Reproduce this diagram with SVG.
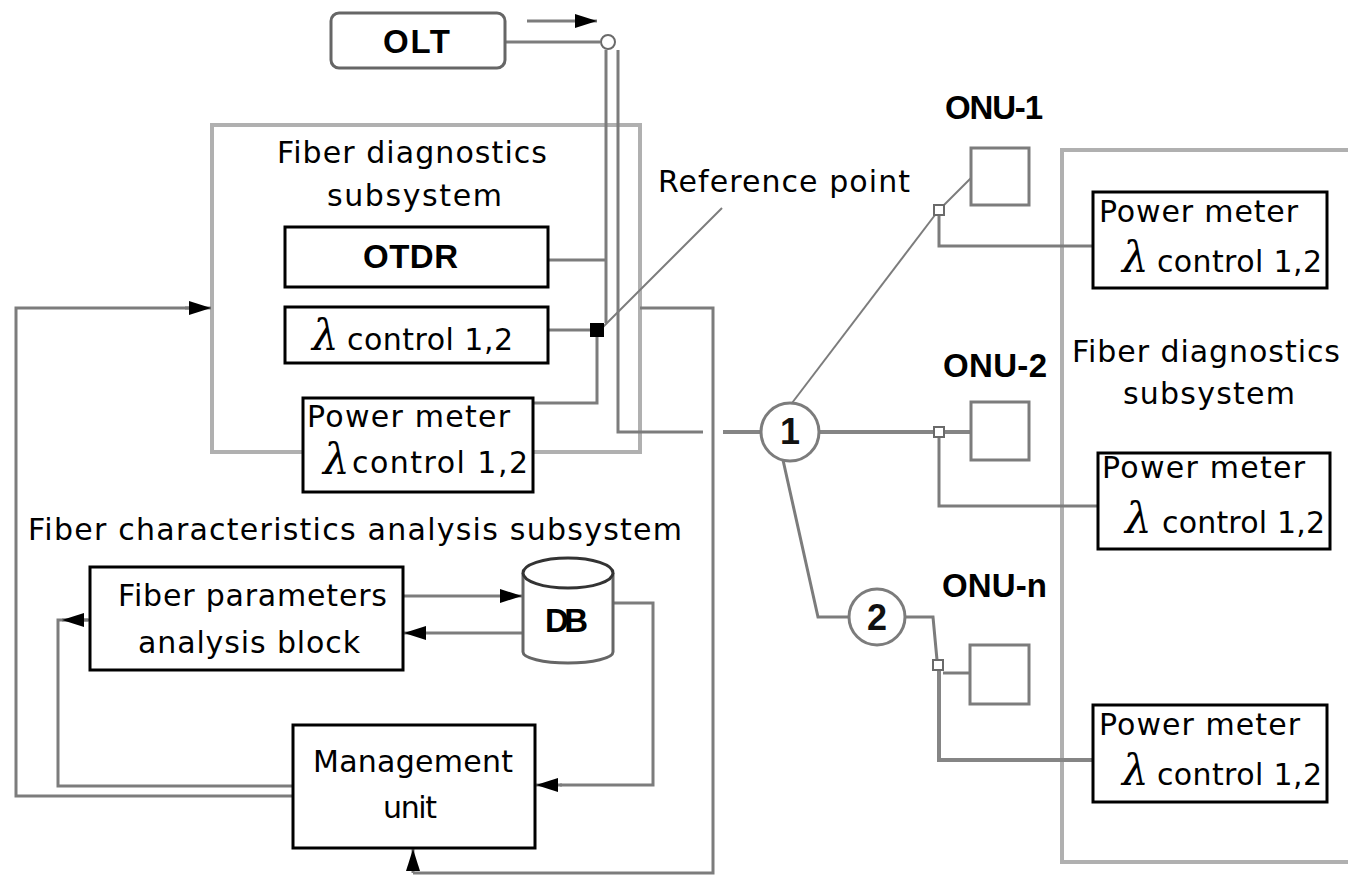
<svg xmlns="http://www.w3.org/2000/svg" width="1348" height="875" viewBox="0 0 1348 875">
<style>
.t{font-family:"DejaVu Sans","Liberation Sans",sans-serif;font-size:30px;fill:#000}
.b{font-family:"Liberation Sans",Arial,sans-serif;font-weight:bold;font-size:33px;fill:#000}
.n{font-family:"Liberation Sans",Arial,sans-serif;font-weight:bold;font-size:36px;fill:#111}
.l{font-family:"DejaVu Serif","Liberation Serif",serif;font-style:italic;font-size:42px;fill:#000}
.box{fill:#fff;stroke:#000;stroke-width:3}
.sub{fill:none;stroke:#b0b0b0;stroke-width:4}
.onu{fill:#fff;stroke:#7c7c7c;stroke-width:3}
.c{fill:none;stroke:#7c7c7c;stroke-width:3}
.w{fill:none;stroke:#858585;stroke-width:4}
.thin{fill:none;stroke:#7c7c7c;stroke-width:2}
.cp{fill:#fff;stroke:#6a6a6a;stroke-width:2}
.ar{marker-end:url(#ah)}
</style>
<defs>
<marker id="ah" viewBox="0 0 22 14" refX="22" refY="7" markerWidth="22" markerHeight="14" markerUnits="userSpaceOnUse" orient="auto">
<path d="M0,0 L22,7 L0,14 z" fill="#000"/>
</marker>
</defs>
<rect width="1348" height="875" fill="#fff"/>

<g id="diag-left">
<rect class="sub" x="212" y="125" width="428" height="327"/>
<text class="t" x="277" y="163" textLength="270">Fiber diagnostics</text>
<text class="t" x="327" y="206" textLength="175">subsystem</text>
</g>
<g id="diag-right">
<rect class="sub" x="1062" y="150" width="300" height="712"/>
<text class="t" x="1072" y="362" textLength="268">Fiber diagnostics</text>
<text class="t" x="1123" y="404" textLength="172">subsystem</text>
</g>
<g id="analysis-label">
<text class="t" x="28" y="540" textLength="654">Fiber characteristics analysis subsystem</text>
</g>
<g id="refpoint-label">
<text class="t" x="658" y="192" textLength="252">Reference point</text>
</g>

<g id="connectors">
<path class="c ar" d="M527,21 H597"/>
<path class="c" d="M505,42 H600"/>
<path class="c" d="M606,50 V323"/>
<path class="c" d="M618,50 V432 H703"/>
<path class="w" d="M723,432 H761"/>
<path class="c" d="M548,260 H606"/>
<path class="c" d="M548,330 H590"/>
<path class="c" d="M597,337 V403 H533"/>
<path class="thin" d="M603,327 L722,208" stroke-width="1.5"/>
<path class="c" d="M640,308 H713 V873 H413"/>
<path class="c ar" d="M413,873 V849"/>
<path class="c" d="M293,796 H16 V308 H190"/>
<path class="c ar" d="M185,308 H211"/>
<path class="c" d="M293,786 H58 V620 H90"/>
<path class="c ar" d="M88,620 H62"/>
<path class="c ar" d="M403,596 H522"/>
<path class="c ar" d="M523,633 H404"/>
<path class="c" d="M613,603 H653 V785 H560"/>
<path class="c ar" d="M562,785 H536"/>
<path class="thin" d="M792,403 L935,215"/>
<path class="thin" d="M943,206 L971,178"/>
<path class="c" d="M939,215 V246 H1093"/>
<path class="w" d="M819,432 H934"/>
<path class="w" d="M944,432 H971"/>
<path class="c" d="M939,437 V506 H1098"/>
<path class="c" d="M783,460 L818,617 H849"/>
<path class="c" d="M905,617 H933 L937,660"/>
<path class="c" d="M943,673 H970"/>
<path class="w" d="M939,670 V760 H1093"/>
<circle class="cp" cx="608" cy="42" r="7" stroke-width="3"/>
<rect x="590" y="323" width="14" height="14" fill="#000"/>
<rect class="cp" x="934" y="205" width="10" height="10"/>
<rect class="cp" x="934" y="427" width="10" height="10"/>
<rect class="cp" x="933" y="660" width="10" height="10"/>
</g>

<g id="olt">
<rect x="331" y="13" width="174" height="55" rx="8" fill="#fff" stroke="#666" stroke-width="3"/>
<text class="b" x="383" y="53" textLength="67">OLT</text>
</g>
<g id="otdr">
<rect class="box" x="285" y="227" width="263" height="60"/>
<text class="b" x="363" y="268" textLength="95">OTDR</text>
</g>
<g id="lambda-control">
<rect class="box" x="285" y="307" width="263" height="56"/>
<text class="l" x="312" y="350">λ</text>
<text class="t" x="347" y="350" textLength="166">control 1,2</text>
</g>
<g id="power-meter-olt">
<rect class="box" x="303" y="398" width="230" height="94"/>
<text class="t" x="307" y="427" textLength="203">Power meter</text>
<text class="l" x="323" y="474">λ</text>
<text class="t" x="352" y="473" textLength="176">control 1,2</text>
</g>
<g id="fiber-params">
<rect class="box" x="90" y="567" width="313" height="103"/>
<text class="t" x="118" y="606" textLength="269">Fiber parameters</text>
<text class="t" x="138" y="653" textLength="222">analysis block</text>
</g>
<g id="db">
<path d="M523,573 V652 A45,11 0 0 0 613,652 V573" fill="#fff" stroke="#666" stroke-width="3"/>
<ellipse cx="568" cy="573" rx="45" ry="15" fill="#fff" stroke="#333" stroke-width="3"/>
<text class="b" x="545" y="632" textLength="43">DB</text>
</g>
<g id="management">
<rect class="box" x="293" y="725" width="242" height="123"/>
<text class="t" x="313" y="772" textLength="200">Management</text>
<text class="t" x="383" y="818" textLength="54">unit</text>
</g>
<g id="splitter-1">
<circle cx="790" cy="432" r="29" fill="#fff" stroke="#7c7c7c" stroke-width="3"/>
<text class="n" x="790" y="444" text-anchor="middle">1</text>
</g>
<g id="splitter-2">
<circle cx="877" cy="617" r="28" fill="#fff" stroke="#7c7c7c" stroke-width="3"/>
<text class="n" x="877" y="630" text-anchor="middle">2</text>
</g>
<g id="onu-1">
<text class="b" x="945" y="119" textLength="98">ONU-1</text>
<rect class="onu" x="971" y="148" width="58" height="57"/>
</g>
<g id="onu-2">
<text class="b" x="943" y="377" textLength="104">ONU-2</text>
<rect class="onu" x="971" y="402" width="58" height="58"/>
</g>
<g id="onu-n">
<text class="b" x="942" y="597" textLength="105">ONU-n</text>
<rect class="onu" x="970" y="645" width="59" height="59"/>
</g>
<g id="power-meter-1">
<rect class="box" x="1093" y="192" width="234" height="96"/>
<text class="t" x="1099" y="222" textLength="199">Power meter</text>
<text class="l" x="1122" y="272">λ</text>
<text class="t" x="1157" y="272" textLength="165">control 1,2</text>
</g>
<g id="power-meter-2">
<rect class="box" x="1098" y="453" width="232" height="96"/>
<text class="t" x="1102" y="478" textLength="203">Power meter</text>
<text class="l" x="1125" y="533">λ</text>
<text class="t" x="1162" y="533" textLength="163">control 1,2</text>
</g>
<g id="power-meter-n">
<rect class="box" x="1093" y="705" width="234" height="97"/>
<text class="t" x="1099" y="735" textLength="201">Power meter</text>
<text class="l" x="1122" y="785">λ</text>
<text class="t" x="1157" y="785" textLength="165">control 1,2</text>
</g>
</svg>
